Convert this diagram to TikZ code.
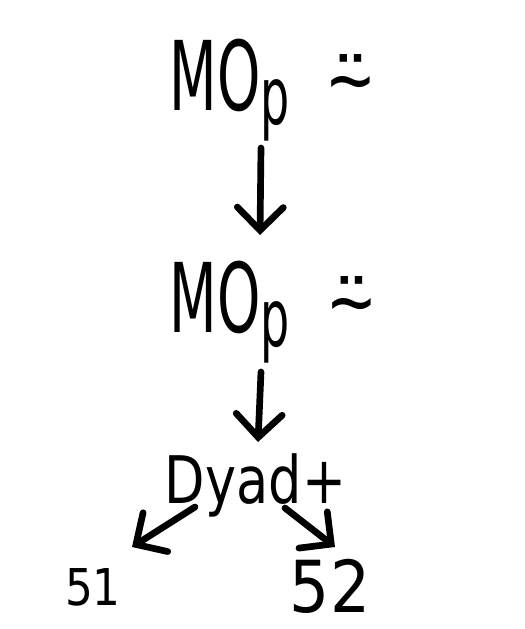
\documentclass[tikz,border=0pt]{standalone}
\usepackage{fontspec}
\setmainfont{DejaVu Sans}
\newfontfamily\monofont{DejaVu Sans Mono}
\usetikzlibrary{arrows.meta}
\begin{document}
\begin{tikzpicture}[x=0.01cm, y=-0.01cm, line cap=round, line join=round,
  >={Straight Barb[length=2.3mm, width=4.6mm, line cap=round]},
  pen/.style={line width=1.9pt},
  hand/.style={font=\Huge, inner sep=0pt, outer sep=0pt},
  face/.style={font=\Huge\monofont, inner sep=0pt, outer sep=0pt, anchor=base, xscale=0.85, yscale=0.9}]
\useasboundingbox (0,0) rectangle (525,629);
% Hai dòng MO_p, mặt cười bên cạnh
\node[hand, anchor=base west, xscale=0.63, yscale=1.1] (mo1) at (170,110) {MO\textsubscript{p}};
\node[face] (face1) at (351,106) {⍨};
\node[hand, anchor=base west, xscale=0.63, yscale=1.1] (mo2) at (170,332) {MO\textsubscript{p}};
\node[face] (face2) at (352,328) {⍨};
% Dòng dưới cùng
\node[hand, anchor=base west, xscale=0.6, yscale=0.75] (dyad) at (165,503) {Dyad+};
\node[hand, anchor=base west, xscale=0.5, yscale=0.58] (s1) at (65,605) {51};
\node[hand, anchor=base west, xscale=0.72, yscale=0.82] (s2) at (290,612) {52};
%Vẽ các mũi tên
\draw[pen,->] ([shift={(91,38)}]mo1.base west) -- ([shift={(90,-97)}]mo2.base west);
\draw[pen,->] ([shift={(91,40)}]mo2.base west) -- ([shift={(93,-61)}]dyad.base west);
\draw[pen,->] ([shift={(30,4)}]dyad.base west) -- ([shift={(67,-58)}]s1.base west);
\draw[pen,->] ([shift={(120,5)}]dyad.base west) -- ([shift={(45,-65)}]s2.base west);
\end{tikzpicture}
\end{document}
